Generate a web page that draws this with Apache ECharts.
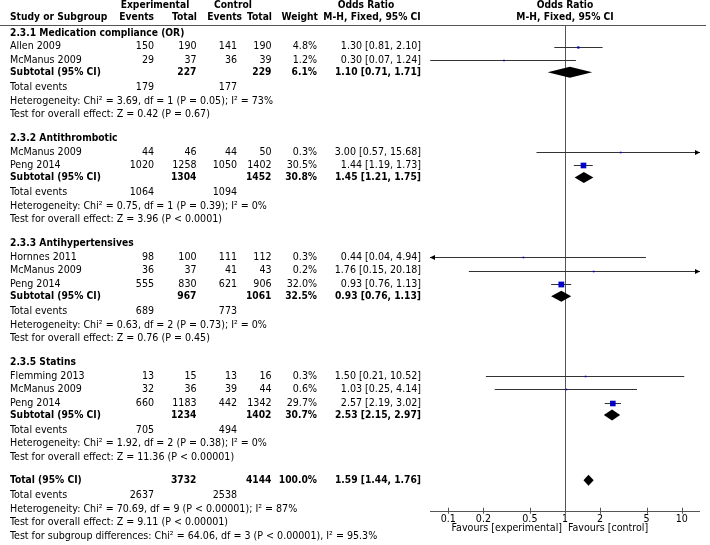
<!DOCTYPE html>
<html>
<head>
<meta charset="utf-8">
<script src="https://cdn.jsdelivr.net/npm/echarts@6/dist/echarts.min.js"></script>
<style>html,body{margin:0;padding:0;background:#fff;}#c{width:710px;height:545px;}</style>
</head>
<body>
<div id="c"></div>
<script>
// ---------------- DATA ----------------
const groupNames = ["2.3.1 Medication compliance (OR)", "2.3.2 Antithrombotic", "2.3.3 Antihypertensives", "2.3.5 Statins"];
const studyGroup = [0, 0, 1, 1, 2, 2, 2, 3, 3, 3];
const studyNames = ["Allen 2009", "McManus 2009", "McManus 2009", "Peng 2014", "Hornnes 2011", "McManus 2009", "Peng 2014", "Flemming 2013", "McManus 2009", "Peng 2014"];
const expEvents = [150, 29, 44, 1020, 98, 36, 555, 13, 32, 660];
const expTotal = [190, 37, 46, 1258, 100, 37, 830, 15, 36, 1183];
const ctrlEvents = [141, 36, 44, 1050, 111, 41, 621, 13, 39, 442];
const ctrlTotal = [190, 39, 50, 1402, 112, 43, 906, 16, 44, 1342];
const weights = [4.8, 1.2, 0.3, 30.5, 0.3, 0.2, 32.0, 0.3, 0.6, 29.7];
const orEst = [1.30, 0.30, 3.00, 1.44, 0.44, 1.76, 0.93, 1.50, 1.03, 2.57];
const orLow = [0.81, 0.07, 0.57, 1.19, 0.04, 0.15, 0.76, 0.21, 0.25, 2.19];
const orHigh = [2.10, 1.24, 15.68, 1.73, 4.94, 20.18, 1.13, 10.52, 4.14, 3.02];

const subExpTotal = [227, 1304, 967, 1234];
const subCtrlTotal = [229, 1452, 1061, 1402];
const subWeight = [6.1, 30.8, 32.5, 30.7];
const subOr = [1.10, 1.45, 0.93, 2.53];
const subLow = [0.71, 1.21, 0.76, 2.15];
const subHigh = [1.71, 1.75, 1.13, 2.97];
const subExpEvents = [179, 1064, 689, 705];
const subCtrlEvents = [177, 1094, 773, 494];
const subHet = [
  "Heterogeneity: Chi² = 3.69, df = 1 (P = 0.05); I² = 73%",
  "Heterogeneity: Chi² = 0.75, df = 1 (P = 0.39); I² = 0%",
  "Heterogeneity: Chi² = 0.63, df = 2 (P = 0.73); I² = 0%",
  "Heterogeneity: Chi² = 1.92, df = 2 (P = 0.38); I² = 0%"
];
const subTest = [
  "Test for overall effect: Z = 0.42 (P = 0.67)",
  "Test for overall effect: Z = 3.96 (P < 0.0001)",
  "Test for overall effect: Z = 0.76 (P = 0.45)",
  "Test for overall effect: Z = 11.36 (P < 0.00001)"
];

const totalExpTotal = 3732;
const totalCtrlTotal = 4144;
const totalWeight = 100.0;
const totalOr = [1.59, 1.44, 1.76];
const totalExpEvents = 2637;
const totalCtrlEvents = 2538;
const totalHet = "Heterogeneity: Chi² = 70.69, df = 9 (P < 0.00001); I² = 87%";
const totalTest = "Test for overall effect: Z = 9.11 (P < 0.00001)";
const subgroupTest = "Test for subgroup differences: Chi² = 64.06, df = 3 (P < 0.00001), I² = 95.3%";

const tickValues = [0.1, 0.2, 0.5, 1, 2, 5, 10];
const tickLabels = ["0.1", "0.2", "0.5", "1", "2", "5", "10"];

// ---------------- LAYOUT ----------------
const X_MIN = 0.06968, X_MAX = 14.35;
const FONT = '"DejaVu Sans Condensed", "DejaVu Sans", sans-serif';
const FS = 10.6, FS_BOLD = 10.2;
const GAP = { secStudy: 13.3, studyStudy: 13.6, studySub: 12.0, subEvents: 15.3, eventsHet: 13.4, hetTest: 13.6, testNext: 24, testTotal: 23 };
const HEAD1_Y = 5, HEAD2_Y = 17.3, HEAD_LINE_Y = 25, FIRST_Y = 33.3, AXIS_Y = 510.7;
const COL = { name: 10, expEv: 154, expTot: 196.5, ctrlEv: 237, ctrlTot: 271.5, weight: 317, orText: 421 };

const fmtOr = (o, l, h) => o.toFixed(2) + " [" + l.toFixed(2) + ", " + h.toFixed(2) + "]";
const fmtW = w => w.toFixed(1) + "%";

const rows = [];
let y = FIRST_Y;
groupNames.forEach((g, gi) => {
  if (gi > 0) y += GAP.testNext;
  rows.push({ y, bold: true, cells: [[COL.name, g, 'left']] });
  let first = true;
  studyNames.forEach((s, i) => {
    if (studyGroup[i] !== gi) return;
    y += first ? GAP.secStudy : GAP.studyStudy; first = false;
    rows.push({ y, bold: false, study: i, cells: [
      [COL.name, s, 'left'], [COL.expEv, String(expEvents[i]), 'right'], [COL.expTot, String(expTotal[i]), 'right'],
      [COL.ctrlEv, String(ctrlEvents[i]), 'right'], [COL.ctrlTot, String(ctrlTotal[i]), 'right'],
      [COL.weight, fmtW(weights[i]), 'right'], [COL.orText, fmtOr(orEst[i], orLow[i], orHigh[i]), 'right']] });
  });
  y += GAP.studySub;
  rows.push({ y, bold: true, sub: gi, cells: [
    [COL.name, "Subtotal (95% CI)", 'left'], [COL.expTot, String(subExpTotal[gi]), 'right'],
    [COL.ctrlTot, String(subCtrlTotal[gi]), 'right'], [COL.weight, fmtW(subWeight[gi]), 'right'],
    [COL.orText, fmtOr(subOr[gi], subLow[gi], subHigh[gi]), 'right']] });
  y += GAP.subEvents;
  rows.push({ y, bold: false, cells: [[COL.name, "Total events", 'left'], [COL.expEv, String(subExpEvents[gi]), 'right'], [COL.ctrlEv, String(subCtrlEvents[gi]), 'right']] });
  y += GAP.eventsHet;
  rows.push({ y, bold: false, cells: [[COL.name, subHet[gi], 'left']] });
  y += GAP.hetTest;
  rows.push({ y, bold: false, cells: [[COL.name, subTest[gi], 'left']] });
});
y += GAP.testTotal;
const totalRowY = y;
rows.push({ y, bold: true, cells: [
  [COL.name, "Total (95% CI)", 'left'], [COL.expTot, String(totalExpTotal), 'right'], [COL.ctrlTot, String(totalCtrlTotal), 'right'],
  [COL.weight, fmtW(totalWeight), 'right'], [COL.orText, fmtOr(totalOr[0], totalOr[1], totalOr[2]), 'right']] });
y += GAP.subEvents;
rows.push({ y, bold: false, cells: [[COL.name, "Total events", 'left'], [COL.expEv, String(totalExpEvents), 'right'], [COL.ctrlEv, String(totalCtrlEvents), 'right']] });
y += GAP.eventsHet;
rows.push({ y, bold: false, cells: [[COL.name, totalHet, 'left']] });
y += GAP.hetTest;
rows.push({ y, bold: false, cells: [[COL.name, totalTest, 'left']] });
y += GAP.eventsHet;
rows.push({ y, bold: false, cells: [[COL.name, subgroupTest, 'left']] });

// header rows
rows.push({ y: HEAD1_Y, bold: true, cells: [[155, "Experimental", 'center'], [233, "Control", 'center'], [366, "Odds Ratio", 'center'], [565, "Odds Ratio", 'center']] });
rows.push({ y: HEAD2_Y, bold: true, cells: [[COL.name, "Study or Subgroup", 'left'], [154, "Events", 'right'], [197, "Total", 'right'],
  [242, "Events", 'right'], [272, "Total", 'right'], [318, "Weight", 'right'], [372, "M-H, Fixed, 95% CI", 'center'], [565, "M-H, Fixed, 95% CI", 'center']] });

// mark data
const studyData = [];
rows.forEach(r => { if (r.study !== undefined) { const i = r.study; studyData.push([orEst[i], orLow[i], orHigh[i], r.y, weights[i]]); } });
const diamondData = [];
rows.forEach(r => { if (r.sub !== undefined) { const g = r.sub; diamondData.push([subOr[g], subLow[g], subHigh[g], r.y]); } });
diamondData.push([totalOr[0], totalOr[1], totalOr[2], totalRowY]);

// ---------------- CHART ----------------
const chart = echarts.init(document.getElementById('c'), null, { renderer: 'canvas' });

function textEl(x, yy, str, align, bold) {
  return { type: 'text', style: { x: x, y: yy, text: str, textAlign: align, textVerticalAlign: 'middle',
    font: (bold ? 'bold ' + FS_BOLD : FS) + 'px ' + FONT, fill: '#000' } };
}

const option = {
  animation: false,
  backgroundColor: '#fff',
  grid: { left: 430, right: 10, top: 0, bottom: 0 },
  xAxis: { type: 'log', logBase: 10, min: X_MIN, max: X_MAX, show: true,
    axisLine: { show: false }, axisTick: { show: false }, axisLabel: { show: false }, splitLine: { show: false } },
  yAxis: { type: 'value', min: 0, max: 545, inverse: true, show: false },
  graphic: [{ type: 'line', shape: { x1: 0, y1: HEAD_LINE_Y + 0.5, x2: 706, y2: HEAD_LINE_Y + 0.5 }, style: { stroke: '#555', lineWidth: 1 } }],
  series: [
    { // table text
      type: 'custom', clip: false, silent: true,
      data: rows.map((r, i) => [1, r.y, i]),
      renderItem: function (params, api) {
        const r = rows[api.value(2)];
        const py = api.coord([1, api.value(1)])[1];
        return { type: 'group', children: r.cells.map(c => textEl(c[0], py, c[1], c[2], r.bold)) };
      }
    },
    { // frame: reference line, axis line, favours labels
      type: 'custom', clip: false, silent: true,
      data: [[1, AXIS_Y]],
      renderItem: function (params, api) {
        const top = api.coord([1, HEAD_LINE_Y]);
        const mid = api.coord([1, AXIS_Y]);
        const a0 = api.coord([X_MIN, AXIS_Y]);
        const a1 = api.coord([X_MAX, AXIS_Y]);
        return { type: 'group', children: [
          { type: 'line', shape: { x1: Math.round(mid[0]) + 0.5, y1: top[1], x2: Math.round(mid[0]) + 0.5, y2: mid[1] }, style: { stroke: '#555', lineWidth: 1 } },
          { type: 'line', shape: { x1: a0[0], y1: Math.round(mid[1]) + 0.5, x2: a1[0], y2: Math.round(mid[1]) + 0.5 }, style: { stroke: '#555', lineWidth: 1 } },
          textEl(mid[0] - 3, mid[1] + 17.5, "Favours [experimental]", 'right', false),
          textEl(mid[0] + 3, mid[1] + 17.5, "Favours [control]", 'left', false)
        ] };
      }
    },
    { // ticks
      type: 'custom', clip: false, silent: true,
      data: tickValues.map((v, i) => [v, AXIS_Y, i]),
      renderItem: function (params, api) {
        const p = api.coord([api.value(0), api.value(1)]);
        const x = Math.round(p[0]) + 0.5;
        return { type: 'group', children: [
          { type: 'line', shape: { x1: x, y1: p[1] - 3, x2: x, y2: p[1] + 3 }, style: { stroke: '#555', lineWidth: 1 } },
          textEl(p[0], p[1] + 8.5, tickLabels[api.value(2)], 'center', false)
        ] };
      }
    },
    { // study CIs and squares
      type: 'custom', clip: false, silent: true,
      data: studyData,
      renderItem: function (params, api) {
        const o = api.value(0), lo = api.value(1), hi = api.value(2), yy = api.value(3), w = api.value(4);
        const pL = api.coord([Math.max(lo, X_MIN), yy]);
        const pH = api.coord([Math.min(hi, X_MAX), yy]);
        const pO = api.coord([o, yy]);
        const ly = Math.round(pO[1]) + 0.5;
        const ch = [];
        ch.push({ type: 'line', shape: { x1: pL[0], y1: ly, x2: pH[0], y2: ly }, style: { stroke: '#333', lineWidth: 1 } });
        if (hi > X_MAX) ch.push({ type: 'polygon', shape: { points: [[pH[0], ly], [pH[0] - 5, ly - 2.5], [pH[0] - 5, ly + 2.5]] }, style: { fill: '#000' } });
        if (lo < X_MIN) ch.push({ type: 'polygon', shape: { points: [[pL[0], ly], [pL[0] + 5, ly - 2.5], [pL[0] + 5, ly + 2.5]] }, style: { fill: '#000' } });
        const s = Math.max(1.6, 5.6 * Math.sqrt(w / 30));
        ch.push({ type: 'rect', shape: { x: pO[0] - s / 2, y: ly - s / 2, width: s, height: s }, style: { fill: '#0000c8' } });
        return { type: 'group', children: ch };
      }
    },
    { // diamonds
      type: 'custom', clip: false, silent: true,
      data: diamondData,
      renderItem: function (params, api) {
        const yy = api.value(3);
        const pL = api.coord([api.value(1), yy]);
        const pH = api.coord([api.value(2), yy]);
        const pO = api.coord([api.value(0), yy]);
        const h = 5.5;
        return { type: 'polygon', shape: { points: [[pL[0], pO[1]], [pO[0], pO[1] - h], [pH[0], pO[1]], [pO[0], pO[1] + h]] }, style: { fill: '#000' } };
      }
    }
  ]
};
chart.setOption(option);
</script>
</body>
</html>
